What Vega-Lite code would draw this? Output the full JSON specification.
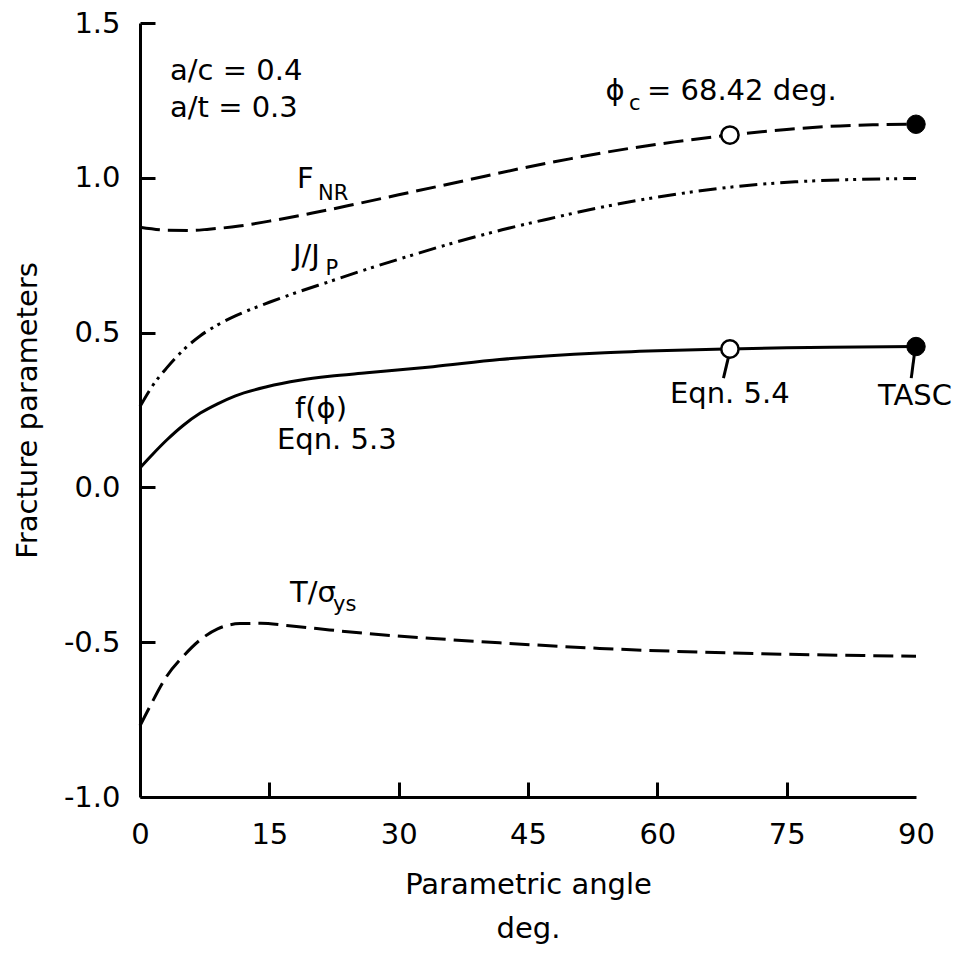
{
  "$schema": "https://vega.github.io/schema/vega-lite/v6.json",
  "width": 776,
  "height": 774,
  "autosize": {"type": "none"},
  "padding": {"left": 140, "top": 23, "right": 57, "bottom": 158},
  "background": "white",
  "config": {"view": {"stroke": null}, "font": "DejaVu Sans"},
  "datasets": {
    "fnr": [
      {"x": 0, "y": 0.84}, {"x": 3, "y": 0.831}, {"x": 6, "y": 0.83}, {"x": 8, "y": 0.834},
      {"x": 11.5, "y": 0.844}, {"x": 15, "y": 0.86}, {"x": 20, "y": 0.886}, {"x": 25, "y": 0.915},
      {"x": 30, "y": 0.945}, {"x": 35, "y": 0.975}, {"x": 40, "y": 1.005}, {"x": 45, "y": 1.035},
      {"x": 50, "y": 1.062}, {"x": 55, "y": 1.087}, {"x": 62, "y": 1.116}, {"x": 68.42, "y": 1.138},
      {"x": 75, "y": 1.156}, {"x": 80, "y": 1.166}, {"x": 85, "y": 1.171}, {"x": 90, "y": 1.173}
    ],
    "jjp": [
      {"x": 0, "y": 0.261}, {"x": 1.5, "y": 0.33}, {"x": 3.1, "y": 0.386}, {"x": 5, "y": 0.443},
      {"x": 7, "y": 0.49}, {"x": 9, "y": 0.525}, {"x": 11, "y": 0.553}, {"x": 15, "y": 0.598},
      {"x": 18, "y": 0.628}, {"x": 22, "y": 0.665}, {"x": 26, "y": 0.702}, {"x": 30, "y": 0.737},
      {"x": 36, "y": 0.787}, {"x": 42, "y": 0.832}, {"x": 47.5, "y": 0.868}, {"x": 53, "y": 0.902},
      {"x": 59, "y": 0.933}, {"x": 65, "y": 0.958}, {"x": 70.7, "y": 0.976}, {"x": 76, "y": 0.987},
      {"x": 82, "y": 0.994}, {"x": 90, "y": 0.998}
    ],
    "fphi": [
      {"x": 0, "y": 0.063}, {"x": 1.5, "y": 0.108}, {"x": 3.1, "y": 0.153}, {"x": 5, "y": 0.2},
      {"x": 7, "y": 0.24}, {"x": 9, "y": 0.27}, {"x": 11, "y": 0.295}, {"x": 14.7, "y": 0.325},
      {"x": 18.5, "y": 0.346}, {"x": 22, "y": 0.359}, {"x": 26.3, "y": 0.37}, {"x": 34, "y": 0.39},
      {"x": 41.7, "y": 0.413}, {"x": 53.3, "y": 0.434}, {"x": 60, "y": 0.441}, {"x": 68.42, "y": 0.447},
      {"x": 75, "y": 0.451}, {"x": 80, "y": 0.453}, {"x": 90, "y": 0.455}
    ],
    "tsy": [
      {"x": 0, "y": -0.77}, {"x": 1.16, "y": -0.707}, {"x": 3.1, "y": -0.61}, {"x": 5, "y": -0.546},
      {"x": 7, "y": -0.492}, {"x": 9, "y": -0.457}, {"x": 11.6, "y": -0.44}, {"x": 14, "y": -0.439},
      {"x": 17, "y": -0.446}, {"x": 20.5, "y": -0.456}, {"x": 26.3, "y": -0.472}, {"x": 34, "y": -0.488},
      {"x": 41.7, "y": -0.502}, {"x": 53.3, "y": -0.52}, {"x": 65, "y": -0.532}, {"x": 75, "y": -0.539},
      {"x": 90, "y": -0.545}
    ],
    "open": [{"x": 68.42, "y": 1.138}, {"x": 68.42, "y": 0.447}],
    "filled": [{"x": 90, "y": 1.173}, {"x": 90, "y": 0.455}],
    "leaders": [
      {"x": 68.25, "y": 0.421, "x2": 67.67, "y2": 0.353},
      {"x": 89.8, "y": 0.428, "x2": 89.45, "y2": 0.353}
    ],
    "labels": [
      {"x": 3.48, "y": 1.315, "text": "a/c = 0.4"},
      {"x": 3.48, "y": 1.196, "text": "a/t = 0.3"},
      {"x": 54.0, "y": 1.2505, "text": "ϕ"},
      {"x": 58.8, "y": 1.2505, "text": "=  68.42 deg."},
      {"x": 18.2, "y": 0.967, "text": "F"},
      {"x": 17.75, "y": 0.718, "text": "J/J"},
      {"x": 17.98, "y": 0.2245, "text": "f(ϕ)"},
      {"x": 15.89, "y": 0.1244, "text": "Eqn. 5.3"},
      {"x": 61.47, "y": 0.2728, "text": "Eqn. 5.4"},
      {"x": 85.6, "y": 0.2659, "text": "TASC"},
      {"x": 17.4, "y": -0.369, "text": "T/σ"}
    ],
    "subs": [
      {"x": 56.7, "y": 1.218, "text": "c"},
      {"x": 20.64, "y": 0.928, "text": "NR"},
      {"x": 21.5, "y": 0.686, "text": "P"},
      {"x": 22.38, "y": -0.398, "text": "ys"}
    ]
  },
  "encoding": {
    "x": {
      "field": "x", "type": "quantitative",
      "scale": {"domain": [0, 90], "nice": false, "zero": false},
      "axis": {
        "values": [0, 15, 30, 45, 60, 75, 90],
        "format": "d",
        "title": ["Parametric angle", "deg."],
        "grid": false,
        "domainColor": "black", "domainWidth": 3,
        "tickColor": "black", "tickWidth": 3, "tickSize": -15,
        "tickOpacity": {"condition": {"test": "datum.value == 90 || datum.value == 0", "value": 0}, "value": 1},
        "labelFont": "DejaVu Sans", "labelFontSize": 29, "labelColor": "black",
        "labelPadding": 38, "labelFlush": false, "labelOverlap": false,
        "titleFont": "DejaVu Sans", "titleFontSize": 29, "titleFontWeight": "normal", "titleColor": "black",
        "titleX": 388, "titleY": 96, "titleAlign": "center", "titleBaseline": "alphabetic", "titleLineHeight": 44
      }
    },
    "y": {
      "field": "y", "type": "quantitative",
      "scale": {"domain": [-1, 1.5], "nice": false, "zero": false},
      "axis": {
        "values": [-1, -0.5, 0, 0.5, 1, 1.5],
        "labelExpr": "datum.value < 0 ? '-' + format(-datum.value, '.1f') : format(datum.value, '.1f')",
        "title": "Fracture parameters",
        "grid": false,
        "domainColor": "black", "domainWidth": 3,
        "tickColor": "black", "tickWidth": 3, "tickSize": -15,
        "labelFont": "DejaVu Sans", "labelFontSize": 29, "labelColor": "black",
        "labelPadding": 35, "labelOverlap": false, "labelFlush": false,
        "titleFont": "DejaVu Sans", "titleFontSize": 29, "titleFontWeight": "normal", "titleColor": "black",
        "titleX": -104, "titleY": 387, "titleAlign": "center", "titleBaseline": "alphabetic", "titleAngle": -90
      }
    }
  },
  "layer": [
    {"data": {"name": "fnr"}, "mark": {"type": "line", "color": "black", "strokeWidth": 3, "strokeDash": [20, 8], "interpolate": "monotone", "strokeCap": "butt"}},
    {"data": {"name": "jjp"}, "mark": {"type": "line", "color": "black", "strokeWidth": 3, "strokeDash": [18, 6, 3, 5, 3, 6], "interpolate": "monotone", "strokeCap": "butt"}},
    {"data": {"name": "fphi"}, "mark": {"type": "line", "color": "black", "strokeWidth": 3, "interpolate": "monotone"}},
    {"data": {"name": "tsy"}, "mark": {"type": "line", "color": "black", "strokeWidth": 3, "strokeDash": [20, 8], "interpolate": "monotone", "strokeCap": "butt"}},
    {"data": {"name": "leaders"}, "mark": {"type": "rule", "color": "black", "strokeWidth": 3},
     "encoding": {"x2": {"field": "x2"}, "y2": {"field": "y2"}}},
    {"data": {"name": "open"}, "mark": {"type": "point", "shape": "circle", "filled": true, "fill": "white", "stroke": "black", "strokeWidth": 2.5, "size": 300, "opacity": 1}},
    {"data": {"name": "filled"}, "mark": {"type": "point", "shape": "circle", "filled": true, "fill": "black", "stroke": "black", "strokeWidth": 1, "size": 340, "opacity": 1}},
    {"data": {"name": "labels"}, "mark": {"type": "text", "font": "DejaVu Sans", "fontSize": 29, "color": "black", "align": "left", "baseline": "alphabetic"},
     "encoding": {"text": {"field": "text"}}},
    {"data": {"name": "subs"}, "mark": {"type": "text", "font": "DejaVu Sans", "fontSize": 21, "color": "black", "align": "left", "baseline": "alphabetic"},
     "encoding": {"text": {"field": "text"}}}
  ]
}
